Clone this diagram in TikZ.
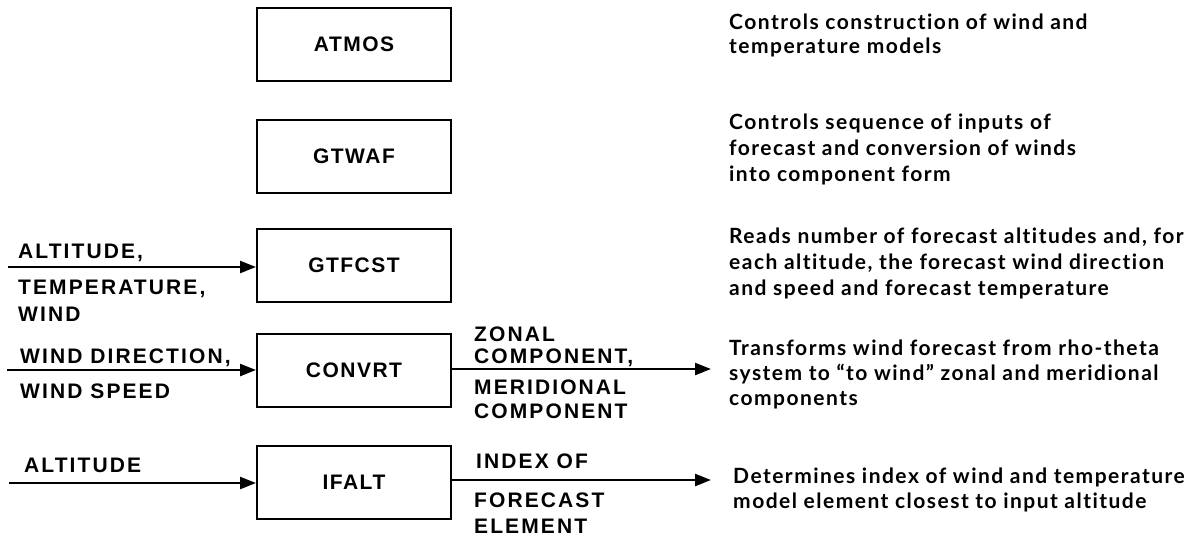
\documentclass[tikz,border=0pt]{standalone}
\usepackage{fontspec}
\usetikzlibrary{arrows.meta}
\newfontfamily\labfont{Liberation Sans}[LetterSpace=10]
\newfontfamily\boxfont{Liberation Sans}[LetterSpace=7]
\newfontfamily\descfont{Lato}[LetterSpace=7, Ligatures={NoCommon}]
\tikzset{
  module/.style={draw, line width=2pt, minimum width=194pt, minimum height=73pt,
    inner sep=0pt, font=\boxfont\bfseries\fontsize{21}{21}\selectfont},
  lab/.style={anchor=base west, inner sep=0pt, font=\labfont\bfseries\fontsize{21}{21}\selectfont},
  desc/.style={anchor=base west, inner sep=0pt, font=\descfont\bfseries\fontsize{21}{21}\selectfont},
  flow/.style={line width=2.4pt, -{Triangle[length=16pt,width=12pt]}},
}
\begin{document}
\begin{tikzpicture}[x=1pt, y=-1pt]
\useasboundingbox (0,0) rectangle (1201,539);

% program modules
\node[module] (atmos)  at (354,44)    {ATMOS};
\node[module] (gtwaf)  at (354,156)   {GTWAF};
\node[module] (gtfcst) at (354,265.5) {GTFCST};
\node[module] (convrt) at (354,370)   {CONVRT};
\node[module] (ifalt)  at (354,482.5) {IFALT};

% inputs
\coordinate (in1) at (8,267);
\coordinate (in2) at (7,370);
\coordinate (in3) at (9,483);
\draw[flow] (in1) -- (gtfcst.west |- in1);
\draw[flow] (in2) -- (convrt.west);
\draw[flow] (in3) -- (ifalt.west |- in3);

\node[lab] (i1a) at (18,258) {ALTITUDE,};
\node[lab] (i1b) at (18,294) {TEMPERATURE,};
\node[lab] (i1c) at (18,321) {WIND};
\node[lab] (i2a) at (20,363) {WIND DIRECTION,};
\node[lab] (i2b) at (20,398) {WIND SPEED};
\node[lab] (i3a) at (24,472) {ALTITUDE};

% outputs
\coordinate (out2) at (711,369);
\coordinate (out3) at (711,480);
\draw[flow] (convrt.east |- out2) -- (out2);
\draw[flow] (ifalt.east |- out3) -- (out3);

\node[lab] (o2a) at (474,341) {ZONAL};
\node[lab] (o2b) at (474,363) {COMPONENT,};
\node[lab] (o2c) at (474,394) {MERIDIONAL};
\node[lab] (o2d) at (474,418) {COMPONENT};
\node[lab] (o3a) at (476,468) {INDEX OF};
\node[lab] (o3b) at (474,507) {FORECAST};
\node[lab] (o3c) at (474,533) {ELEMENT};

% descriptions
\node[desc] (d1a) at (729,29)  {Controls construction of wind and};
\node[desc] (d1b) at (729,53)  {temperature models};
\node[desc] (d2a) at (729,129) {Controls sequence of inputs of};
\node[desc] (d2b) at (729,155) {forecast and conversion of winds};
\node[desc] (d2c) at (729,181) {into component form};
\node[desc] (d3a) at (729,243) {Reads number of forecast altitudes and, for};
\node[desc] (d3b) at (729,269) {each altitude, the forecast wind direction};
\node[desc] (d3c) at (729,295) {and speed and forecast temperature};
\node[desc] (d4a) at (729,355) {Transforms wind forecast from rho-theta};
\node[desc] (d4b) at (729,380) {system to “to wind” zonal and meridional};
\node[desc] (d4c) at (729,405) {components};
\node[desc] (d5a) at (733,483) {Determines index of wind and temperature};
\node[desc] (d5b) at (733,508) {model element closest to input altitude};
\end{tikzpicture}
\end{document}
